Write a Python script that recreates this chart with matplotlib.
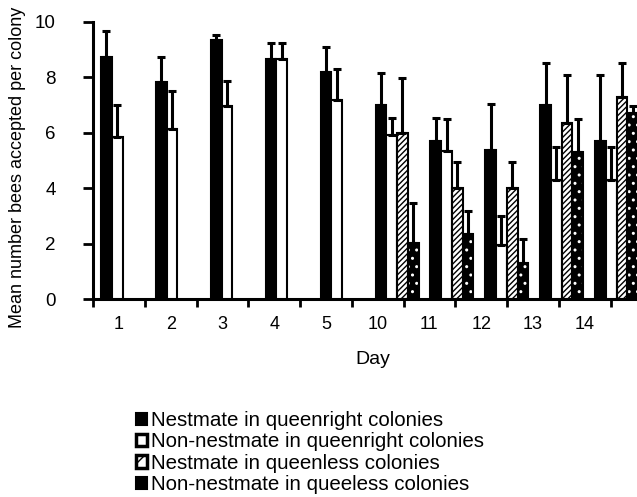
import numpy as np
import matplotlib
matplotlib.use("Agg")
import matplotlib.pyplot as plt
from matplotlib.patches import Patch

plt.rcParams['font.family'] = ['Liberation Sans', 'DejaVu Sans']
plt.rcParams['hatch.linewidth'] = 1.0

days = ['1', '2', '3', '4', '5', '10', '11', '12', '13', '14']
nest_qr = [8.72, 7.84, 9.35, 8.68, 8.20, 7.01, 5.69, 5.38, 7.01, 5.69]
nest_qr_err = [0.95, 0.90, 0.19, 0.57, 0.90, 1.15, 0.86, 1.67, 1.51, 2.38]
non_qr = [5.84, 6.15, 6.97, 8.68, 7.17, 5.93, 5.35, 1.95, 4.30, 4.30]
non_qr_err = [1.16, 1.36, 0.89, 0.57, 1.15, 0.62, 1.14, 1.05, 1.20, 1.20]
nest_ql = [np.nan] * 5 + [5.99, 4.00, 4.00, 6.35, 7.31]
nest_ql_err = [np.nan] * 5 + [1.99, 0.96, 0.96, 1.72, 1.21]
non_ql = [np.nan] * 5 + [2.01, 2.34, 1.31, 5.32, 6.70]
non_ql_err = [np.nan] * 5 + [1.47, 0.82, 0.85, 1.18, 0.25]

labels = ['Nestmate in queenright colonies',
          'Non-nestmate in queenright colonies',
          'Nestmate in queenless colonies',
          'Non-nestmate in queeless colonies']

W, H = 637, 497
fig = plt.figure(figsize=(W / 100, H / 100), dpi=100)

# geometry in pixels
px_unit = 54.9          # spacing between bar groups
x_axis_left = 93
first_group = 101
tick_spacing = 51.75    # spacing of the category ticks on the axis
right_px = 700
ax = fig.add_axes([x_axis_left / W, 1 - 299 / H, (right_px - x_axis_left) / W, (299 - 22) / H])

x = np.arange(len(days))
bw = 0.196
lw = 1.5
ekw = dict(ecolor='black', elinewidth=2.2, capsize=3, capthick=2.2, lw=0, zorder=4)

def draw(offset, vals, errs, face, hatch=None, hatch_color='black'):
    xs = x + offset
    v = np.array(vals, dtype=float)
    if hatch is not None:
        ax.bar(xs, v, bw, align='edge', color=face, edgecolor=hatch_color,
               hatch=hatch, linewidth=0, zorder=2)
        ax.bar(xs, v, bw, align='edge', facecolor='none', edgecolor='black',
               linewidth=lw, zorder=3)
    else:
        ax.bar(xs, v, bw, align='edge', color=face, edgecolor='black',
               linewidth=lw, zorder=3)
    e = np.array(errs, dtype=float)
    ax.errorbar(xs + bw / 2, v, yerr=[np.zeros_like(e), e], fmt='none', **ekw)

draw(0 * bw, nest_qr, nest_qr_err, 'black')
draw(1 * bw, non_qr, non_qr_err, 'white')
draw(2 * bw, nest_ql, nest_ql_err, 'white', hatch='//////')
draw(3 * bw, non_ql, non_ql_err, 'black', hatch='..', hatch_color='white')

xl = (x_axis_left - first_group) / px_unit
xr = (right_px - first_group) / px_unit
ax.set_xlim(xl, xr)
ax.set_ylim(0, 10)

k = np.arange(len(days) + 1)
ticks = xl + k * tick_spacing / px_unit
ax.set_xticks(ticks)
ax.set_xticklabels([])
ax.set_xticks((ticks[:-1] + ticks[1:]) / 2, minor=True)
ax.set_xticklabels(days, minor=True)
ax.tick_params(axis='x', which='minor', length=0, pad=12, labelsize=13)
ax.tick_params(axis='x', which='major', length=6, width=2, direction='out')

ax.set_yticks([0, 2, 4, 6, 8, 10])
ax.tick_params(axis='y', length=7, width=2, direction='out', pad=20, labelsize=13.5)

for s in ['top', 'right']:
    ax.spines[s].set_visible(False)
for s in ['left', 'bottom']:
    ax.spines[s].set_linewidth(2.2)

ax.set_ylabel('Mean number bees accepted per colony', fontsize=13)
ax.yaxis.set_label_coords((26 - x_axis_left) / (right_px - x_axis_left), (299 - 167) / 277)
fig.text(373 / W, 1 - 360 / H, 'Day', fontsize=14, ha='center', va='center')

handles = [
    Patch(facecolor='black', edgecolor='black', linewidth=1.5),
    Patch(facecolor='white', edgecolor='black', linewidth=2.5),
    Patch(facecolor='white', edgecolor='black', linewidth=2.5, hatch='//'),
    Patch(facecolor='black', edgecolor='black', linewidth=1.5),
]
leg = fig.legend(handles, labels, loc='upper left',
                 bbox_to_anchor=(136 / W, 1 - 411 / H), frameon=False,
                 fontsize=14.8, handlelength=0.55, handleheight=0.55,
                 handletextpad=0.2, labelspacing=0.12, borderpad=0,
                 borderaxespad=0)

fig.savefig('out.png', dpi=100)
